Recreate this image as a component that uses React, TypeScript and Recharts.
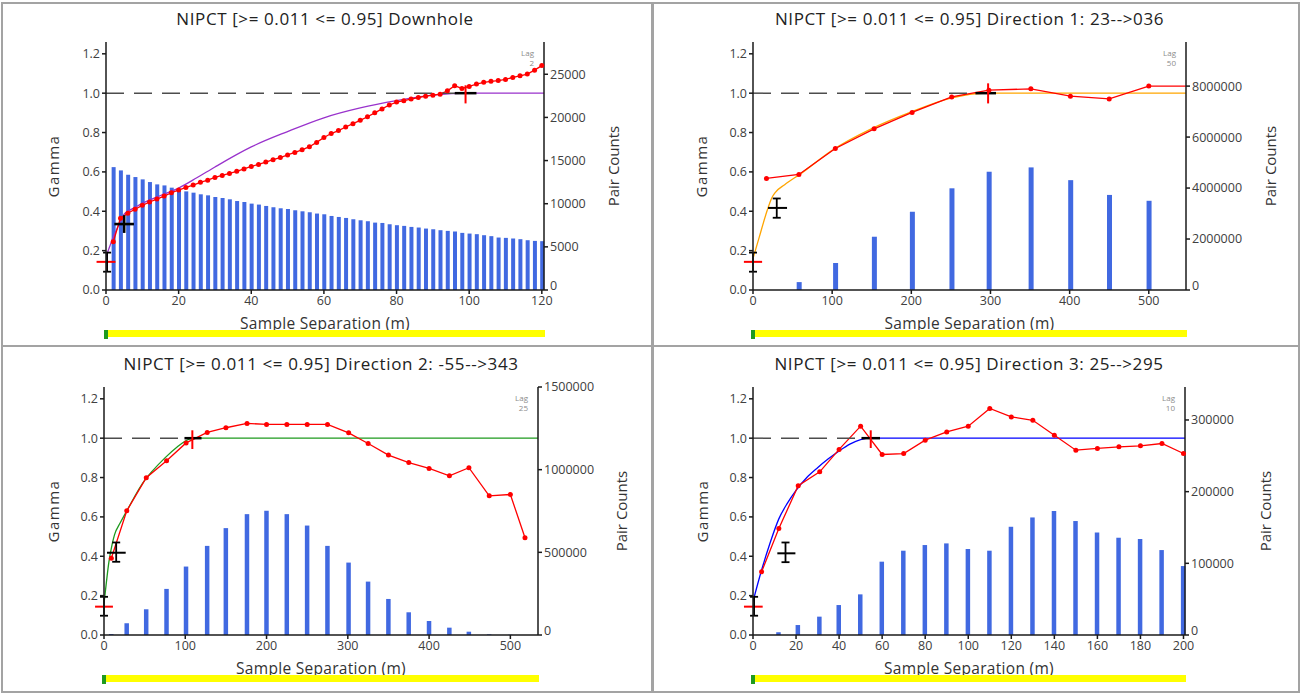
import React from "react";
import { Bar, ComposedChart, Line, ReferenceLine, XAxis, YAxis } from "recharts";

// Four experimental variogram panels (downhole + three directions) for NIPCT.
// Red = experimental gamma, coloured = fitted model, blue bars = pair counts.

const FONT = "'Open Sans', 'Noto Sans', sans-serif";

// ---- Downhole, lag 2 ----
const dhLag = [2, 4, 6, 8, 10, 12, 14, 16, 18, 20, 22, 24, 26, 28, 30, 32, 34, 36, 38, 40, 42, 44, 46, 48, 50, 52, 54, 56, 58, 60, 62, 64, 66, 68, 70, 72, 74, 76, 78, 80, 82, 84, 86, 88, 90, 92, 94, 96, 98, 100, 102, 104, 106, 108, 110, 112, 114, 116, 118, 120];
const dhGamma = [0.245, 0.365, 0.39, 0.41, 0.43, 0.447, 0.462, 0.477, 0.494, 0.508, 0.521, 0.533, 0.547, 0.558, 0.572, 0.582, 0.592, 0.603, 0.615, 0.628, 0.638, 0.65, 0.662, 0.673, 0.686, 0.699, 0.712, 0.728, 0.75, 0.775, 0.795, 0.81, 0.828, 0.845, 0.862, 0.88, 0.9, 0.92, 0.94, 0.955, 0.962, 0.97, 0.978, 0.985, 0.99, 0.995, 1.012, 1.038, 1.024, 1.034, 1.046, 1.055, 1.06, 1.064, 1.07, 1.08, 1.088, 1.097, 1.117, 1.14];
const dhPairs = [14240, 13860, 13360, 13090, 12820, 12510, 12240, 12120, 11860, 11630, 11430, 11280, 11090, 10970, 10780, 10660, 10510, 10310, 10200, 10010, 9900, 9740, 9590, 9470, 9390, 9240, 9120, 9010, 8860, 8775, 8580, 8465, 8350, 8200, 8080, 7970, 7810, 7770, 7620, 7510, 7430, 7310, 7240, 7120, 7040, 6930, 6850, 6780, 6620, 6540, 6470, 6350, 6240, 6080, 6040, 5970, 5890, 5770, 5690, 5660];
const dhModelX = [0, 1, 2, 3, 4, 5, 6, 8, 10, 15, 20, 25, 30, 40, 50, 60, 70, 80, 90, 100, 120.6];
const dhModelGamma = [0.17, 0.22, 0.27, 0.31, 0.35, 0.385, 0.4, 0.42, 0.44, 0.48, 0.518, 0.57, 0.625, 0.727, 0.805, 0.875, 0.925, 0.962, 0.99, 1.0, 1.0];
const dhNugget = { x: 0.3, y: 0.143, yLo: 0.093, yHi: 0.19, xLo: -2.6, xHi: 2.6 };
const dhFirst = { x: 5, y: 0.335, yLo: 0.29, yHi: 0.38, xLo: 2.3, xHi: 7.7 };
const dhRange = { x: 99, yLo: 0.948, yHi: 1.04, xLo: 96, xHi: 102 };

// ---- Direction 1, lag 50 ----
const d1Lag = [17, 58, 104, 153, 201, 251, 298, 351, 401, 450, 500];
const d1Gamma = [0.567, 0.587, 0.719, 0.819, 0.902, 0.981, 1.015, 1.022, 0.985, 0.971, 1.036];
const d1Pairs = [0, 310000, 1060000, 2090000, 3070000, 3990000, 4640000, 4810000, 4310000, 3730000, 3500000];
const d1TailX = [500, 547];
const d1TailGamma = [1.036, 1.036];
const d1ModelX = [0, 8, 16, 24, 28, 40, 60, 100, 150, 200, 250, 280, 300, 547];
const d1ModelGamma = [0.16, 0.27, 0.38, 0.47, 0.495, 0.535, 0.59, 0.71, 0.82, 0.905, 0.975, 0.997, 1.0, 1.0];
const d1Nugget = { x: 0, y: 0.143, yLo: 0.093, yHi: 0.19, xLo: -11.5, xHi: 11.5 };
const d1First = { x: 30, y: 0.417, yLo: 0.367, yHi: 0.465, xLo: 19, xHi: 43 };
const d1Range = { x: 297, yLo: 0.948, yHi: 1.05, xLo: 281, xHi: 307 };

// ---- Direction 2, lag 25 ----
const d2Lag = [9, 28, 52, 77, 101, 127, 150, 176, 200, 225, 250, 275, 301, 325, 350, 375, 400, 425, 449, 474, 500, 518];
const d2Gamma = [0.39, 0.631, 0.799, 0.885, 0.976, 1.029, 1.053, 1.075, 1.07, 1.07, 1.07, 1.07, 1.027, 0.973, 0.914, 0.876, 0.846, 0.809, 0.85, 0.707, 0.714, 0.494];
const d2Pairs = [6000, 70700, 155600, 278800, 414000, 539000, 646500, 731000, 751500, 731000, 662000, 539000, 438000, 323000, 218000, 137400, 84800, 44400, 20000, 4000, 2000, 0];
const d2ModelX = [0, 3, 6, 10, 13, 20, 30, 40, 50, 60, 75, 90, 100, 110, 534];
const d2ModelGamma = [0.16, 0.27, 0.37, 0.46, 0.51, 0.57, 0.645, 0.72, 0.785, 0.835, 0.9, 0.955, 0.985, 1.0, 1.0];
const d2Nugget = { x: 0, y: 0.144, yLo: 0.098, yHi: 0.194, xLo: -11, xHi: 11 };
const d2First = { x: 15, y: 0.418, yLo: 0.372, yHi: 0.47, xLo: 3.7, xHi: 26.7 };
const d2Range = { x: 108.7, yLo: 0.945, yHi: 1.04, xLo: 99, xHi: 120 };

// ---- Direction 3, lag 10 ----
const d3Lag = [4, 12, 21, 31, 40, 50, 60, 70, 80, 90, 100, 110, 120, 130, 140, 150, 160, 170, 180, 190, 200];
const d3Gamma = [0.321, 0.541, 0.758, 0.829, 0.943, 1.061, 0.917, 0.922, 0.99, 1.032, 1.061, 1.151, 1.108, 1.091, 1.015, 0.939, 0.948, 0.956, 0.961, 0.973, 0.922];
const d3Pairs = [0, 3700, 13900, 25600, 41800, 56700, 102300, 117600, 125500, 127800, 120000, 117600, 151000, 164000, 173000, 159000, 143000, 135700, 133900, 118500, 96200];
const d3ModelX = [0, 4, 8, 12, 16, 20, 25, 30, 35, 40, 45, 50, 55, 200.7];
const d3ModelGamma = [0.17, 0.33, 0.47, 0.59, 0.67, 0.735, 0.8, 0.85, 0.895, 0.935, 0.97, 0.993, 1.0, 1.0];
const d3Nugget = { x: 0.5, y: 0.144, yLo: 0.098, yHi: 0.194, xLo: -4.2, xHi: 4.5 };
const d3First = { x: 15.1, y: 0.415, yLo: 0.37, yHi: 0.47, xLo: 11.3, xHi: 19.7 };
const d3Range = { x: 54.7, yLo: 0.95, yHi: 1.04, xLo: 50.4, xHi: 59 };

const gammaTicks = [0, 0.2, 0.4, 0.6, 0.8, 1.0, 1.2];

const zipPoints = (xs: number[], gs: number[], ps?: number[]) =>
  xs.map((x, i) => ({ x, gamma: gs[i], pairs: ps ? ps[i] : undefined }));

type Marker = { x: number; y?: number; yLo: number; yHi: number; xLo: number; xHi: number };

type Spec = {
  title: string;
  lag: string;
  box: { left: number; top: number; width: number; height: number };
  plot: { left: number; right: number; top: number; bottom: number };
  xMax: number;
  xTicks: number[];
  pairsMax: number;
  pairsTicks: number[];
  points: { x: number; gamma: number; pairs?: number }[];
  tail?: { x: number; gamma: number }[];
  model: { x: number; gamma: number }[];
  modelColor: string;
  barSize: number;
  nugget: Marker;
  first: Marker;
  firstCaps: boolean;
  range: Marker;
  gammaLabelX: number;
  pairsLabelX: number;
};

// vertical segment with small horizontal caps, drawn from the line's own pixel ends
function CappedLine(p: any) {
  const c = 4;
  const s = { stroke: p.stroke, strokeWidth: p.strokeWidth };
  return (
    <g>
      <line x1={p.x1} y1={p.y1} x2={p.x2} y2={p.y2} {...s} />
      <line x1={p.x1 - c} y1={p.y1} x2={p.x1 + c} y2={p.y1} {...s} />
      <line x1={p.x2 - c} y1={p.y2} x2={p.x2 + c} y2={p.y2} {...s} />
    </g>
  );
}

const tickStyle = { fontSize: 12.5, fill: "#404040", fontFamily: FONT };
const axisStyle = { stroke: "#1a1a1a", strokeWidth: 1.5 };

// right-axis labels; the zero is lifted a little so it clears the last x label
function PairsTick(p: any) {
  const lift = p.payload.value === 0 ? 4 : 0;
  return (
    <text x={p.x} y={p.y - lift} dy="0.355em" textAnchor="start" fontSize={12.5} fill="#404040" fontFamily={FONT}>
      {p.payload.value}
    </text>
  );
}

function Panel({ s }: { s: Spec }) {
  const { box, plot } = s;
  const margin = {
    left: plot.left - box.left - 60,
    right: box.left + box.width - plot.right - 60,
    top: plot.top - box.top,
    bottom: box.top + box.height - plot.bottom - 25,
  };
  const midX = (plot.left + plot.right) / 2;
  const midY = plot.top + 124;
  const rot: React.CSSProperties = {
    position: "absolute",
    transform: "translate(-50%, -50%) rotate(-90deg)",
    whiteSpace: "nowrap",
    fontSize: 15,
    color: "#333",
  };
  const n = s.nugget;
  const f = s.first;
  const r = s.range;
  return (
    <>
      <div style={{ position: "absolute", left: box.left, top: box.top }}>
        <ComposedChart width={box.width} height={box.height} data={s.points} margin={margin}>
          <XAxis
            type="number"
            dataKey="x"
            domain={[0, s.xMax]}
            ticks={s.xTicks}
            interval={0}
            height={25}
            tick={tickStyle}
            tickSize={4}
            axisLine={axisStyle}
            tickLine={axisStyle}
          />
          {/* model curves get their own hidden x axis so the bar width is set by the lags only */}
          <XAxis xAxisId="m" type="number" dataKey="x" domain={[0, s.xMax]} allowDataOverflow hide />
          <YAxis
            yAxisId="left"
            domain={[0, 1.26]}
            ticks={gammaTicks}
            interval={0}
            width={60}
            tickFormatter={(v: number) => v.toFixed(1)}
            tick={tickStyle}
            tickSize={4}
            axisLine={axisStyle}
            tickLine={axisStyle}
          />
          <YAxis
            yAxisId="right"
            orientation="right"
            domain={[0, s.pairsMax]}
            ticks={s.pairsTicks}
            interval={0}
            width={60}
            tick={PairsTick}
            tickSize={4}
            axisLine={axisStyle}
            tickLine={axisStyle}
          />
          <Bar dataKey="pairs" yAxisId="right" fill="#4169E1" barSize={s.barSize} isAnimationActive={false} />
          <Line
            data={s.model}
            xAxisId="m"
            dataKey="gamma"
            yAxisId="left"
            type="monotone"
            stroke={s.modelColor}
            strokeWidth={1.3}
            dot={false}
            isAnimationActive={false}
          />
          {s.tail && (
            <Line
              data={s.tail}
              xAxisId="m"
              dataKey="gamma"
              yAxisId="left"
              stroke="#ff0000"
              strokeWidth={1.3}
              dot={false}
              isAnimationActive={false}
            />
          )}
          <Line
            dataKey="gamma"
            yAxisId="left"
            type="linear"
            stroke="#ff0000"
            strokeWidth={1.3}
            dot={{ r: 2.5, fill: "#ff0000", stroke: "#ff0000", strokeWidth: 0 }}
            isAnimationActive={false}
          />
          {/* sill, dashed up to the range */}
          <ReferenceLine yAxisId="left" ifOverflow="visible" segment={[{ x: 0, y: 1 }, { x: r.xLo, y: 1 }]} stroke="#4d4d4d" strokeWidth={1.5} strokeDasharray="18 10" />
          <ReferenceLine yAxisId="left" ifOverflow="visible" segment={[{ x: r.xLo, y: 1 }, { x: r.xHi, y: 1 }]} stroke="#000" strokeWidth={2.5} />
          <ReferenceLine yAxisId="left" ifOverflow="visible" segment={[{ x: r.x, y: r.yLo }, { x: r.x, y: r.yHi }]} stroke="#ff0000" strokeWidth={2} />
          {/* nugget */}
          <ReferenceLine yAxisId="left" ifOverflow="visible" segment={[{ x: n.xLo, y: n.y! }, { x: n.xHi, y: n.y! }]} stroke="#ff0000" strokeWidth={2} />
          <ReferenceLine yAxisId="left" ifOverflow="visible" segment={[{ x: n.x, y: n.yLo }, { x: n.x, y: n.yHi }]} stroke="#000" strokeWidth={1.8} shape={CappedLine} />
          {/* first structure */}
          <ReferenceLine yAxisId="left" ifOverflow="visible" segment={[{ x: f.xLo, y: f.y! }, { x: f.xHi, y: f.y! }]} stroke="#000" strokeWidth={s.firstCaps ? 2 : 2.6} />
          <ReferenceLine
            yAxisId="left"
            ifOverflow="visible"
            segment={[{ x: f.x, y: f.yLo }, { x: f.x, y: f.yHi }]}
            stroke="#000"
            strokeWidth={s.firstCaps ? 1.8 : 2.6}
            shape={s.firstCaps ? CappedLine : undefined}
          />
        </ComposedChart>
      </div>
      <div
        style={{
          position: "absolute",
          left: midX - 320,
          width: 640,
          top: box.top + 7,
          textAlign: "center",
          fontSize: 17,
          letterSpacing: 0.6,
          color: "#222",
          whiteSpace: "nowrap",
        }}
      >
        {s.title}
      </div>
      <div style={{ ...rot, left: s.gammaLabelX, top: midY, letterSpacing: 1.5 }}>Gamma</div>
      <div style={{ ...rot, left: s.pairsLabelX, top: midY }}>Pair Counts</div>
      <div
        style={{
          position: "absolute",
          left: plot.right - 60,
          width: 50,
          top: plot.top + 6,
          textAlign: "right",
          fontSize: 8,
          lineHeight: "10px",
          color: "#8c8c8c",
        }}
      >
        Lag
        <br />
        {s.lag}
      </div>
      <div
        style={{
          position: "absolute",
          left: midX - 150,
          width: 300,
          top: plot.bottom + 22,
          textAlign: "center",
          fontSize: 15.5,
          letterSpacing: 0.3,
          color: "#333",
        }}
      >
        Sample Separation (m)
      </div>
      <div style={{ position: "absolute", left: plot.left + 2, width: plot.right - plot.left - 1, top: plot.bottom + 40, height: 7, background: "#ffff00" }} />
      <div style={{ position: "absolute", left: plot.left - 2, width: 4, top: plot.bottom + 40, height: 9, background: "#1f9a1f" }} />
    </>
  );
}

const specs: Spec[] = [
  {
    title: "NIPCT [>= 0.011 <= 0.95] Downhole",
    lag: "2",
    box: { left: 0, top: 0, width: 652, height: 345 },
    plot: { left: 106, right: 544, top: 42, bottom: 290 },
    xMax: 120.6,
    xTicks: [0, 20, 40, 60, 80, 100, 120],
    pairsMax: 28740,
    pairsTicks: [0, 5000, 10000, 15000, 20000, 25000],
    points: zipPoints(dhLag, dhGamma, dhPairs),
    model: zipPoints(dhModelX, dhModelGamma),
    modelColor: "#9932CC",
    barSize: 4,
    nugget: dhNugget,
    first: dhFirst,
    firstCaps: false,
    range: dhRange,
    gammaLabelX: 53,
    pairsLabelX: 613,
  },
  {
    title: "NIPCT [>= 0.011 <= 0.95] Direction 1: 23-->036",
    lag: "50",
    box: { left: 652, top: 0, width: 648, height: 345 },
    plot: { left: 753, right: 1186, top: 42, bottom: 290 },
    xMax: 547,
    xTicks: [0, 100, 200, 300, 400, 500],
    pairsMax: 9730000,
    pairsTicks: [0, 2000000, 4000000, 6000000, 8000000],
    points: zipPoints(d1Lag, d1Gamma, d1Pairs),
    tail: zipPoints(d1TailX, d1TailGamma),
    model: zipPoints(d1ModelX, d1ModelGamma),
    modelColor: "#FFA500",
    barSize: 5,
    nugget: d1Nugget,
    first: d1First,
    firstCaps: true,
    range: d1Range,
    gammaLabelX: 701,
    pairsLabelX: 1270,
  },
  {
    title: "NIPCT [>= 0.011 <= 0.95] Direction 2: -55-->343",
    lag: "25",
    box: { left: 0, top: 345, width: 652, height: 347 },
    plot: { left: 104, right: 538, top: 387, bottom: 635 },
    xMax: 534,
    xTicks: [0, 100, 200, 300, 400, 500],
    pairsMax: 1500000,
    pairsTicks: [0, 500000, 1000000, 1500000],
    points: zipPoints(d2Lag, d2Gamma, d2Pairs),
    model: zipPoints(d2ModelX, d2ModelGamma),
    modelColor: "#1e9a1e",
    barSize: 4.5,
    nugget: d2Nugget,
    first: d2First,
    firstCaps: true,
    range: d2Range,
    gammaLabelX: 53,
    pairsLabelX: 621,
  },
  {
    title: "NIPCT [>= 0.011 <= 0.95] Direction 3: 25-->295",
    lag: "10",
    box: { left: 652, top: 345, width: 648, height: 347 },
    plot: { left: 753, right: 1185, top: 387, bottom: 635 },
    xMax: 200.7,
    xTicks: [0, 20, 40, 60, 80, 100, 120, 140, 160, 180, 200],
    pairsMax: 346000,
    pairsTicks: [0, 100000, 200000, 300000],
    points: zipPoints(d3Lag, d3Gamma, d3Pairs),
    model: zipPoints(d3ModelX, d3ModelGamma),
    modelColor: "#0000ff",
    barSize: 4.5,
    nugget: d3Nugget,
    first: d3First,
    firstCaps: true,
    range: d3Range,
    gammaLabelX: 702,
    pairsLabelX: 1265,
  },
];

const frames = [
  { left: 1, top: 2, width: 652, height: 345 },
  { left: 652, top: 2, width: 648, height: 345 },
  { left: 1, top: 345, width: 652, height: 348 },
  { left: 652, top: 345, width: 648, height: 348 },
];

export default function App() {
  return (
    <div
      style={{
        position: "absolute",
        left: 0,
        top: 0,
        width: 1306,
        height: 697,
        background: "#fff",
        fontFamily: FONT,
        overflow: "hidden",
      }}
    >
      {frames.map((fr, i) => (
        <div
          key={`f${i}`}
          style={{ position: "absolute", ...fr, boxSizing: "border-box", border: "2px solid #a3a3a3" }}
        />
      ))}
      {specs.map((s) => (
        <Panel key={s.title} s={s} />
      ))}
    </div>
  );
}
